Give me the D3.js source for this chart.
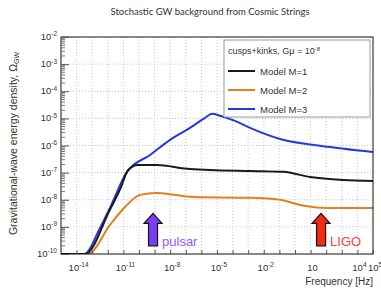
<!DOCTYPE html>
<html>
<head>
<meta charset="utf-8">
<script src="https://cdn.jsdelivr.net/npm/d3@7"></script>
<style>
  body { margin: 0; background: #fff; }
  text { font-family: "Liberation Sans", Arial, sans-serif; }
</style>
</head>
<body>
<div id="chart"></div>
<script>
// values
const title = "Stochastic GW background from Cosmic Strings";
const xTickExps = [-14, -11, -8, -5, -2, 1, 4, 5];
const yTickExps = [-2, -3, -4, -5, -6, -7, -8, -9, -10];

const freqM1 = [1e-15, 10**-13.45, 10**-11.86, 10**-11.2, 10**-10.71, 10**-10.06, 10**-8.85, 10**-6.92, 10**-5.45, 10**-2.88, 10**-0.77, 10**0.96, 10**3.08, 1e5];
const omegaM1 = [1e-10, 1e-10, 10**-8.36, 10**-7.6, 10**-6.92, 10**-6.72, 10**-6.72, 10**-6.86, 10**-6.9, 10**-6.94, 10**-6.97, 10**-7.16, 10**-7.27, 10**-7.31];

const freqM2 = [1e-15, 10**-13.27, 10**-11.86, 10**-10.9, 10**-9.94, 10**-8.85, 10**-6.54, 10**-2.88, 10**-0.96, 10**0.32, 10**2.05, 1e5];
const omegaM2 = [1e-10, 1e-10, 10**-8.93, 10**-8.27, 10**-7.82, 10**-7.75, 10**-7.9, 10**-7.93, 10**-8.0, 10**-8.19, 10**-8.3, 10**-8.3];

const freqM3 = [1e-15, 10**-13.5, 10**-12.5, 10**-11.86, 10**-10.77, 10**-9.29, 10**-8.01, 10**-6.73, 10**-5.77, 10**-5.32, 10**-4.81, 10**-3.85, 10**-2.88, 10**-0.77, 10**1.6, 1e5];
const omegaM3 = [1e-10, 1e-10, 10**-9.04, 10**-8.3, 10**-6.97, 10**-6.35, 10**-5.79, 10**-5.35, 10**-4.98, 10**-4.83, 10**-4.9, 10**-5.09, 10**-5.35, 10**-5.79, 10**-6.01, 10**-6.24];

const seriesNames = ["Model M=1", "Model M=2", "Model M=3"];
const seriesColors = ["#1a1a1a", "#e2801f", "#2438e0"];

// experiments: name, frequency, arrow tip / base
const expNames = ["pulsar", "LIGO"];
const expFreq = [10**-9.1, 10**1.67];
const expTop = [10**-8.5, 10**-8.5];
const expBase = [10**-9.7, 10**-9.7];
const expColors = ["#7a3ff0", "#f42a12"];
const expTextColors = ["#8d5cff", "#ff3b3b"];

let width = 381, height = 291;
let margin = ({top: 37, right: 8, bottom: 37, left: 61});

let svg = d3.select("#chart").append("svg")
  .attr("width", width).attr("height", height);

let x = d3.scaleLog().domain([1e-15, 1e5]).range([margin.left, width - margin.right]);
let y = d3.scaleLog().domain([1e-10, 1e-2]).range([height - margin.bottom, margin.top]);

// title
svg.append("text")
  .attr("x", 210).attr("y", 15)
  .attr("text-anchor", "middle")
  .style("font-family", "Lato, 'Open Sans', sans-serif")
  .style("font-size", "9.5px")
  .attr("fill", "#333")
  .text(title);

// grid
let decadesX = d3.range(-14, 5).map(e => 10 ** e);
let decadesY = d3.range(-9, -2).map(e => 10 ** e);
svg.append("g").selectAll("line").data(decadesX).enter().append("line")
  .attr("x1", d => x(d)).attr("x2", d => x(d))
  .attr("y1", y.range()[0]).attr("y2", y.range()[1])
  .attr("stroke", "#c8c8c8").attr("stroke-dasharray", "1,2");
svg.append("g").selectAll("line").data(decadesY).enter().append("line")
  .attr("y1", d => y(d)).attr("y2", d => y(d))
  .attr("x1", x.range()[0]).attr("x2", x.range()[1])
  .attr("stroke", "#c8c8c8").attr("stroke-dasharray", "1,2");

// curves
svg.append("clipPath").attr("id", "clip").append("rect")
  .attr("x", margin.left).attr("y", margin.top - 1)
  .attr("width", width - margin.left - margin.right)
  .attr("height", height - margin.top - margin.bottom + 1);

let line = d3.line().x(d => x(d[0])).y(d => y(d[1])).curve(d3.curveMonotoneX);
let allSeries = [
  d3.zip(freqM1, omegaM1),
  d3.zip(freqM2, omegaM2),
  d3.zip(freqM3, omegaM3)
];
// draw order: M3 (blue) at bottom, orange, then black
[2, 1, 0].forEach(i => {
  svg.append("path")
    .attr("clip-path", "url(#clip)")
    .attr("d", line(allSeries[i]))
    .attr("fill", "none")
    .attr("stroke", seriesColors[i])
    .attr("stroke-width", 2);
});

// frame
svg.append("rect")
  .attr("x", margin.left).attr("y", margin.top)
  .attr("width", width - margin.left - margin.right)
  .attr("height", height - margin.top - margin.bottom)
  .attr("fill", "none").attr("stroke", "#111").attr("stroke-width", 1);

// axes (ticks inside)
let supLabel = (sel, exps) => {
  sel.each(function(d, i) {
    let t = d3.select(this).text("");
    let e = exps[i];
    t.append("tspan").text("10");
    if (e !== 1) {
      t.append("tspan").attr("dy", "-0.55em").style("font-size", "6.5px").text(e);
    }
  });
};

let xAxis = svg.append("g")
  .attr("transform", `translate(0,${height - margin.bottom})`)
  .call(d3.axisBottom(x)
    .tickValues(decadesX.concat([1e5]))
    .tickSize(-4).tickFormat(""));
xAxis.select(".domain").remove();
xAxis.selectAll("line").attr("stroke", "#555");

let xl = svg.append("g").selectAll("text").data(xTickExps).enter().append("text")
  .attr("x", d => x(10 ** d) + 2).attr("y", height - margin.bottom + 17)
  .attr("text-anchor", "middle")
  .style("font-size", "9.5px").attr("fill", "#333");
supLabel(xl, xTickExps);

let yAxis = svg.append("g")
  .attr("transform", `translate(${margin.left},0)`)
  .call(d3.axisLeft(y)
    .tickValues(yTickExps.map(e => 10 ** e))
    .tickSize(-8).tickFormat(""));
yAxis.select(".domain").remove();
yAxis.selectAll("line").attr("stroke", "#555");

// minor y ticks
let minorY = [];
d3.range(-10, -2).forEach(e => d3.range(2, 10).forEach(m => minorY.push(m * 10 ** e)));
svg.append("g").selectAll("line").data(minorY).enter().append("line")
  .attr("x1", margin.left).attr("x2", margin.left + 4)
  .attr("y1", d => y(d)).attr("y2", d => y(d))
  .attr("stroke", "#777");

let yl = svg.append("g").selectAll("text").data(yTickExps).enter().append("text")
  .attr("x", margin.left - 4).attr("y", d => y(10 ** d) + 3)
  .attr("text-anchor", "end")
  .style("font-size", "9.5px").attr("fill", "#333");
supLabel(yl, yTickExps);

// axis titles
svg.append("text")
  .attr("x", width - margin.right).attr("y", 285)
  .attr("text-anchor", "end")
  .style("font-size", "10px").attr("fill", "#333")
  .text("Frequency [Hz]");

let ytitle = svg.append("text")
  .attr("transform", `translate(17,${(margin.top + height - margin.bottom) / 2 - 2}) rotate(-90)`)
  .attr("text-anchor", "middle")
  .style("font-size", "10.5px").attr("fill", "#333");
ytitle.append("tspan").text("Gravitational-wave energy density, Ω");
ytitle.append("tspan").attr("dy", "0.3em").style("font-size", "7px").text("GW");

// experiment arrows
expNames.forEach((name, i) => {
  let cx = x(expFreq[i]), yt = y(expTop[i]), yb = y(expBase[i]);
  let hw = 9, sw = 4.5, hh = 10;
  let pts = [[cx, yt], [cx + hw, yt + hh], [cx + sw, yt + hh], [cx + sw, yb],
             [cx - sw, yb], [cx - sw, yt + hh], [cx - hw, yt + hh]];
  svg.append("path")
    .attr("d", d3.line()(pts) + "Z")
    .attr("fill", expColors[i]).attr("stroke", "#111").attr("stroke-width", 1.2);
  svg.append("text")
    .attr("x", cx + 9).attr("y", yb)
    .style("font-size", "13px").attr("fill", expTextColors[i])
    .text(name);
});

// legend
let lg = svg.append("g");
lg.append("rect")
  .attr("x", 224).attr("y", 40).attr("width", 146).attr("height", 77)
  .attr("fill", "#fff").attr("stroke", "#999").attr("stroke-width", 1);
let hdr = lg.append("text").attr("x", 228).attr("y", 54)
  .style("font-size", "9px").attr("fill", "#333");
hdr.append("tspan").text("cusps+kinks, Gμ = 10");
hdr.append("tspan").attr("dy", "-0.55em").style("font-size", "6px").text("-8");
seriesNames.forEach((name, i) => {
  let yy = 71 + i * 19;
  lg.append("line").attr("x1", 228).attr("x2", 255).attr("y1", yy).attr("y2", yy)
    .attr("stroke", seriesColors[i]).attr("stroke-width", 2);
  lg.append("text").attr("x", 260).attr("y", yy + 3.5)
    .style("font-size", "9.5px").attr("fill", "#333").text(name);
});
</script>
</body>
</html>
